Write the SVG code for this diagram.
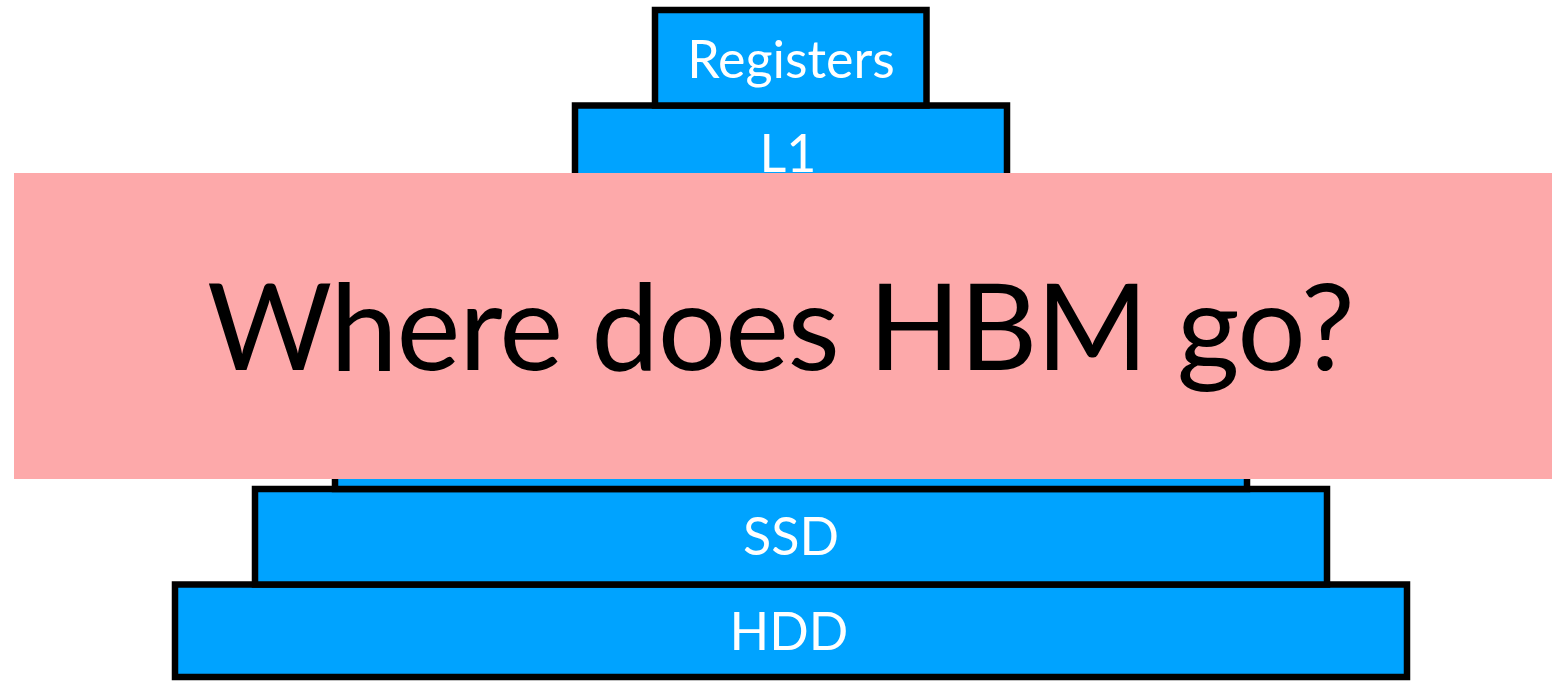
<svg xmlns="http://www.w3.org/2000/svg" width="1552" height="681" viewBox="0 0 1552 681">
  <style>
    .level { fill: #00a3ff; stroke: #000000; stroke-width: 6.5; }
    .lbl { font-family: Lato, "Open Sans", "Liberation Sans", sans-serif; font-size: 52px; fill: #ffffff; text-anchor: middle; }
    .overlay { fill: #fda9aa; }
    .title { font-family: Lato, "Open Sans", "Liberation Sans", sans-serif; font-size: 121px; fill: #000000; text-anchor: middle; }
  </style>
  <rect width="1552" height="681" fill="#ffffff"/>
  <g id="hdd">
    <rect class="level" x="175" y="584.5" width="1232" height="92.5"/>
    <text class="lbl" x="789" y="650">HDD</text>
  </g>
  <g id="ssd">
    <rect class="level" x="255" y="489" width="1072" height="95.5"/>
    <text class="lbl" x="791" y="555">SSD</text>
  </g>
  <g id="dram">
    <rect class="level" x="335" y="392" width="912" height="97"/>
  </g>
  <g id="l1">
    <rect class="level" x="575" y="105.5" width="432" height="95.5"/>
    <text class="lbl" x="788" y="172">L1</text>
  </g>
  <g id="registers">
    <rect class="level" x="655" y="10" width="271.5" height="95.5"/>
    <text class="lbl" x="791" y="78">Registers</text>
  </g>
  <g id="connectors"></g>
  <g id="question">
    <rect class="overlay" x="14" y="173" width="1538" height="306"/>
    <text class="title" x="781" y="370" textLength="1148" lengthAdjust="spacing">Where does HBM go?</text>
  </g>
</svg>
